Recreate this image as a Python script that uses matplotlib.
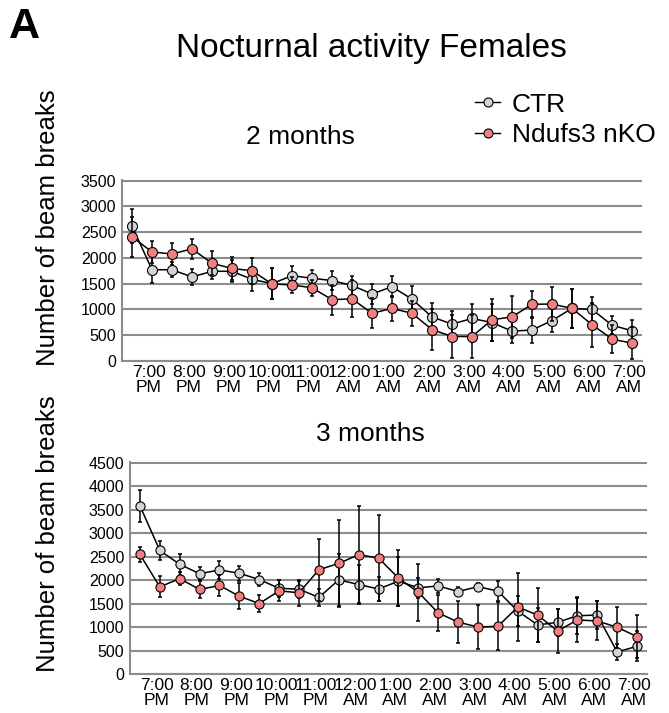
import matplotlib
matplotlib.use("Agg")
import matplotlib.pyplot as plt
from matplotlib.lines import Line2D
import numpy as np

plt.rcParams['font.family'] = ['Liberation Sans', 'DejaVu Sans']

hour_labels = ["7:00\nPM", "8:00\nPM", "9:00\nPM", "10:00\nPM", "11:00\nPM", "12:00\nAM",
               "1:00\nAM", "2:00\nAM", "3:00\nAM", "4:00\nAM", "5:00\nAM", "6:00\nAM", "7:00\nAM"]
series_names = ["CTR", "Ndufs3 nKO"]

# 2 months
m2_ctr = [2620, 1770, 1770, 1630, 1740, 1740, 1585, 1500, 1655, 1605, 1560, 1465, 1300,
          1440, 1200, 855, 715, 825, 745, 580, 600, 785, 1020, 1000, 695, 585]
m2_ctr_err = [330, 260, 150, 150, 145, 215, 235, 300, 180, 160, 190, 190, 200,
              200, 250, 270, 250, 280, 360, 235, 250, 230, 380, 235, 170, 215]
m2_ko = [2410, 2115, 2075, 2175, 1895, 1795, 1750, 1495, 1475, 1420, 1190, 1205, 925,
         1020, 925, 610, 475, 475, 800, 855, 1100, 1105, 1020, 705, 425, 345]
m2_ko_err = [390, 220, 220, 190, 230, 220, 250, 300, 160, 150, 290, 360, 290,
             250, 240, 390, 420, 420, 410, 400, 260, 330, 375, 425, 275, 310]

# 3 months
m3_ctr = [3580, 2630, 2335, 2135, 2215, 2145, 2010, 1825, 1805, 1630, 2005, 1905, 1810,
          1975, 1835, 1875, 1755, 1860, 1765, 1340, 1045, 1100, 1240, 1255, 470, 590]
m3_ctr_err = [340, 210, 225, 140, 190, 155, 130, 180, 180, 185, 560, 415, 250,
              520, 210, 150, 100, 85, 220, 310, 365, 290, 390, 295, 170, 315]
m3_ko = [2545, 1855, 2030, 1800, 1885, 1655, 1500, 1770, 1730, 2220, 2355, 2540, 2470,
         2040, 1740, 1300, 1105, 1000, 1015, 1425, 1255, 915, 1150, 1130, 995, 795]
m3_ko_err = [150, 225, 135, 190, 230, 275, 190, 225, 275, 660, 920, 1030, 925,
             600, 605, 380, 440, 465, 510, 725, 580, 470, 470, 415, 440, 460]

ctr_color = "#d3d3d3"
ko_color = "#f08080"
grid_color = "#8c8c8c"

W, H = 669, 713
fig = plt.figure(figsize=(W / 100, H / 100), dpi=100)


def make_axes(l, r, t, b):
    return fig.add_axes([l / W, 1 - b / H, (r - l) / W, (b - t) / H])


def draw_panel(ax, ctr, ctr_err, ko, ko_err, ymax, ms):
    x = np.arange(len(ctr))
    for vals, errs, col, z in [(ctr, ctr_err, ctr_color, 3), (ko, ko_err, ko_color, 4)]:
        ax.errorbar(x, vals, yerr=errs, fmt='none', ecolor='black', elinewidth=1.1,
                    capsize=1.6, capthick=1.1, zorder=z)
        ax.plot(x, vals, '-', color='black', lw=1.1, marker='o', ms=ms,
                mfc=col, mec='black', mew=0.8, zorder=z + 0.5)
    ax.set_xlim(-0.5, len(ctr) - 0.5)
    ax.set_ylim(0, ymax * 1.003)
    ax.set_yticks(np.arange(0, ymax + 1, 500))
    ax.set_xticks(x[1::2] - 0.15)
    ax.set_xticklabels(hour_labels, fontsize=12.5, linespacing=0.95)
    ax.tick_params(axis='x', length=0, labelsize=12.5, pad=3)
    ax.tick_params(axis='y', length=0, labelsize=11.5, pad=4)
    for s in ['top', 'right']:
        ax.spines[s].set_visible(False)
    for s in ['left', 'bottom']:
        ax.spines[s].set_color(grid_color)
        ax.spines[s].set_linewidth(1.5)
    ax.yaxis.grid(True, color=grid_color, lw=1.5)
    ax.set_axisbelow(True)


ax1 = make_axes(122, 642, 180, 361)
draw_panel(ax1, m2_ctr, m2_ctr_err, m2_ko, m2_ko_err, 3500, 7.2)
ax2 = make_axes(130, 647, 462, 674)
draw_panel(ax2, m3_ctr, m3_ctr_err, m3_ko, m3_ko_err, 4500, 6.6)

fig.text(9 / W, 1 - 27 / H, "A", fontsize=31, fontweight='bold', va='center', ha='left')
fig.text(371 / W, 1 - 49 / H, "Nocturnal activity Females", fontsize=24, ha='center', va='center')
fig.text(300 / W, 1 - 137 / H, "2 months", fontsize=19, ha='center', va='center')
fig.text(370 / W, 1 - 434 / H, "3 months", fontsize=19, ha='center', va='center')
fig.text(48 / W, 1 - 228 / H, "Number of beam breaks", fontsize=18.5, rotation=90,
         ha='center', va='center')
fig.text(48 / W, 1 - 534 / H, "Number of beam breaks", fontsize=18.5, rotation=90,
         ha='center', va='center')

handles = [Line2D([], [], color='black', lw=1.0, marker='o', ms=6.5, mfc=ctr_color, mec='black', mew=0.8),
           Line2D([], [], color='black', lw=1.0, marker='o', ms=6.5, mfc=ko_color, mec='black', mew=0.8)]
fig.legend(handles, series_names, loc='center left', bbox_to_anchor=(475 / W, 1 - 120 / H),
           frameon=False, fontsize=19, handlelength=0.95, handletextpad=0.45, labelspacing=0.25,
           borderaxespad=0, borderpad=0)

fig.savefig("out.png", dpi=100)
